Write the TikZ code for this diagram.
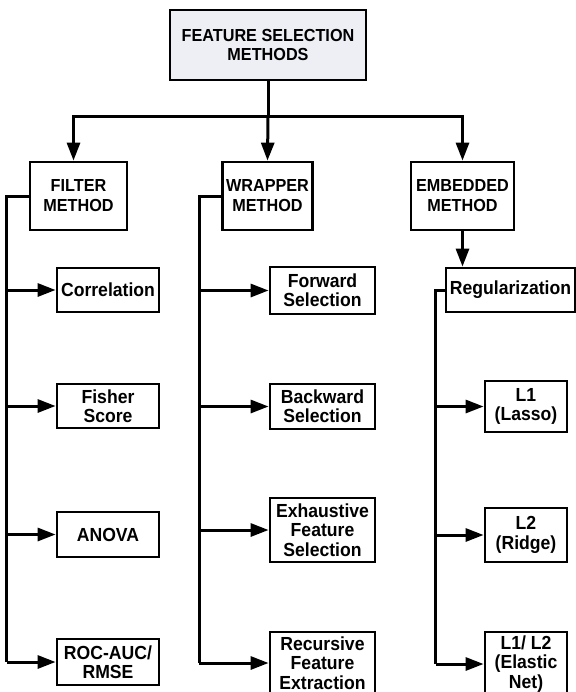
\documentclass[tikz,border=0pt]{standalone}
\usepackage{fontspec}
\setmainfont{Liberation Sans}[FakeStretch=0.93]
\usepackage{tikz}
\usetikzlibrary{arrows.meta, positioning}
\definecolor{headfill}{HTML}{EDEFF5}

\begin{document}
\begin{tikzpicture}[x=1bp, y=-1bp]

% Define block styles
\tikzstyle{headbox} = [rectangle, minimum width=196bp, minimum height=70bp, align=center, draw=black, line width=2.8bp, fill=headfill, font=\fontsize{17.5}{20}\selectfont\bfseries]
\tikzstyle{method} = [rectangle, minimum height=68bp, align=center, draw=black, line width=2.8bp, fill=white, font=\fontsize{17.5}{20}\selectfont\bfseries]
\tikzstyle{leaf} = [rectangle, align=center, draw=black, line width=2.8bp, fill=white, inner sep=1bp, font=\fontsize{19}{19.5}\selectfont\bfseries]
\tikzstyle{arrow} = [line width=3bp, -{Triangle[length=18bp, width=13bp]}]
\tikzstyle{line} = [line width=3bp]

\useasboundingbox (0,0) rectangle (576,692);

% Nodes
\node (fsm) [headbox] at (268,45) {FEATURE SELECTION\\METHODS};
\node (filter) [method, minimum width=97bp] at (78.5,196) {FILTER\\METHOD};
\node (wrapper) [method, minimum width=87bp] at (267.5,196) {WRAPPER\\METHOD};
\node (embedded) [method, minimum width=103bp] at (462.5,196) {EMBEDDED\\METHOD};

% Filter methods
\node (corr) [leaf, minimum width=102bp, minimum height=44bp] at (108,290) {Correlation};
\node (fisher) [leaf, minimum width=102bp, minimum height=44bp] at (108,406) {Fisher\\Score};
\node (anova) [leaf, minimum width=102bp, minimum height=45bp] at (108,534.5) {ANOVA};
\node (roc) [leaf, minimum width=102bp, minimum height=46bp] at (108,662) {ROC-AUC/\\RMSE};

% Wrapper methods
\node (forward) [leaf, minimum width=105bp, minimum height=47bp] at (322.5,290.5) {Forward\\Selection};
\node (backward) [leaf, minimum width=105bp, minimum height=45bp] at (322.5,406.5) {Backward\\Selection};
\node (exhaustive) [leaf, minimum width=105bp, minimum height=64bp] at (322.5,530) {Exhaustive\\Feature\\Selection};
\node (recursive) [leaf, minimum width=105bp, minimum height=62bp] at (322.5,663) {Recursive\\Feature\\Extraction};

% Embedded methods
\node (regular) [leaf, minimum width=129bp, minimum height=44bp] at (510.5,290) {Regularization};
\node (lasso) [leaf, minimum width=82bp, minimum height=51bp] at (526,406.5) {L1\\(Lasso)};
\node (ridge) [leaf, minimum width=82bp, minimum height=54bp] at (526,535) {L2\\(Ridge)};
\node (elastic) [leaf, minimum width=82bp, minimum height=64bp] at (526,664) {L1/ L2\\(Elastic\\Net)};

% Arrows
\draw [line] (fsm.south) -- ++(0,35) coordinate (bus);
\draw [arrow] (bus) -| ([xshift=-5bp]filter.north);
\draw [arrow] (bus) -- (wrapper.north);
\draw [arrow] (bus) -| (embedded.north);
\draw [arrow] (embedded.south) -- (embedded.south |- regular.north);

% Side branches
\draw [line] (filter.west) -| ++(-22,0) coordinate (fbus) -- (fbus |- roc.west);
\draw [arrow] (fbus |- corr.west) -- (corr.west);
\draw [arrow] (fbus |- fisher.west) -- (fisher.west);
\draw [arrow] (fbus |- anova.west) -- (anova.west);
\draw [arrow] (fbus |- roc.west) -- (roc.west);

\draw [line] (wrapper.west) -- ++(-22,0) coordinate (wbus) -- (wbus |- recursive.west);
\draw [arrow] (wbus |- forward.west) -- (forward.west);
\draw [arrow] (wbus |- backward.west) -- (backward.west);
\draw [arrow] (wbus |- exhaustive.west) -- (exhaustive.west);
\draw [arrow] (wbus |- recursive.west) -- (recursive.west);

\draw [line] (regular.west) -- ++(-9,0) coordinate (ebus) -- (ebus |- elastic.west);
\draw [arrow] (ebus |- lasso.west) -- (lasso.west);
\draw [arrow] (ebus |- ridge.west) -- (ridge.west);
\draw [arrow] (ebus |- elastic.west) -- (elastic.west);

\end{tikzpicture}
\end{document}
